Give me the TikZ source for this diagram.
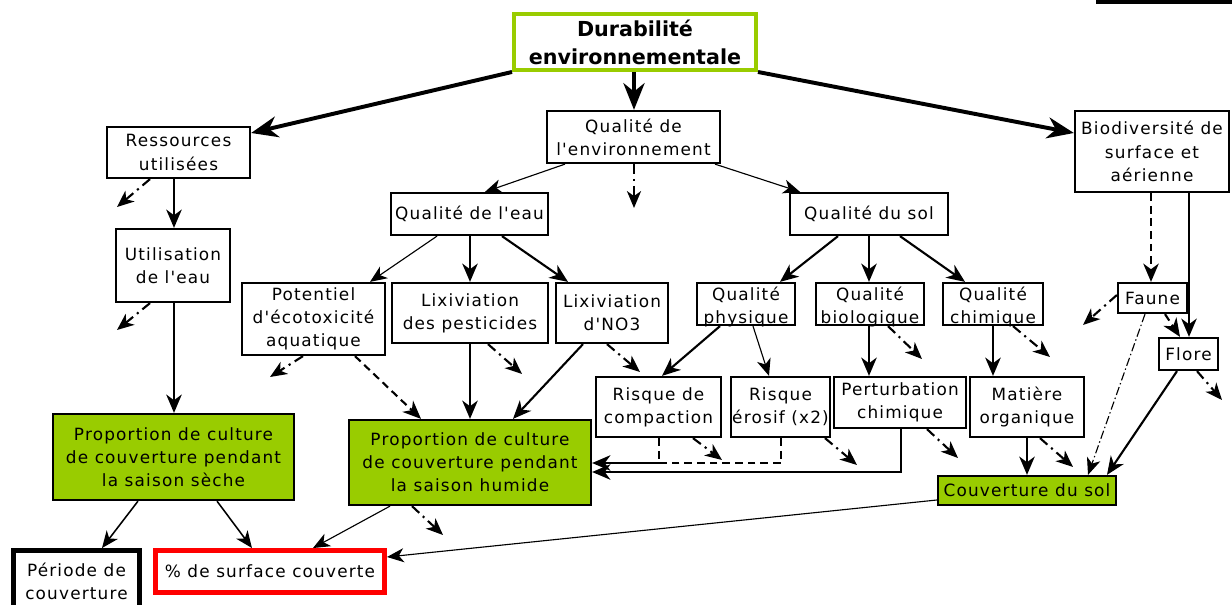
\documentclass[tikz,border=0pt]{standalone}
\usepackage{fontspec}
\newfontfamily\bodyf[LetterSpace=7]{DejaVu Sans}
\newfontfamily\titlef{DejaVu Sans}
\usetikzlibrary{arrows.meta}
\definecolor{leaf}{HTML}{99CC00}
\definecolor{redb}{HTML}{FF0000}
\newcommand{\bx}[7]{\node[#2, minimum width={(#5-#3)*0.025cm}, minimum height={(#6-#4)*0.025cm}] (#1) at ({(#3+#5)/2},{(#4+#6)/2}) {#7};}
\begin{document}
\begin{tikzpicture}[x=0.025cm,y=-0.025cm,
  base/.style={draw, line width=1.6pt, fill=white, inner sep=0pt, align=center, font=\bodyf\fontsize{12}{16.5}\selectfont},
  leafbox/.style={base, fill=leaf},
  titlebox/.style={base, draw=leaf, line width=2.8pt, font=\titlef\bfseries\fontsize{14.7}{20}\selectfont},
  redbox/.style={base, draw=redb, line width=3.5pt},
  blackbox/.style={base, line width=3.5pt},
  txt/.style={inner sep=0pt, align=center, font=\bodyf\fontsize{12}{16}\selectfont},
  thickarr/.style={line width=2.8pt, -{Stealth[length=19pt,width=15pt,inset=6pt]}},
  medarr/.style={line width=1.5pt, -{Stealth[length=13pt,width=11pt,inset=4pt]}},
  thinarr/.style={line width=0.8pt, -{Stealth[length=12pt,width=10pt,inset=3.5pt]}},
  dd/.style={line width=1.5pt, dash pattern=on 7pt off 3.5pt on 1.5pt off 3.5pt, -{Stealth[length=12pt,width=10pt,inset=3.5pt]}},
  dsh/.style={line width=1.5pt, dash pattern=on 5.5pt off 3.5pt},
  thindd/.style={line width=0.8pt, dash pattern=on 6pt off 2pt on 1pt off 2pt, -{Stealth[length=12pt,width=10pt,inset=3.5pt]}}
]
\useasboundingbox (0,0) rectangle (1232,605);
\clip (0,0) rectangle (1232,605);
\fill (1096,0) rectangle (1232,4);

% boxes
\bx{title}{titlebox}{514}{14}{756}{70}{Durabilité\\environnementale}
\bx{res}{base}{107}{127}{250}{178}{Ressources\\utilisées}
\bx{qenv}{base}{547}{111}{720}{163}{Qualité de\\l'environnement}
\bx{bio}{base}{1075}{111}{1229}{192}{Biodiversité de\\surface et\\aérienne}
\bx{qeau}{base}{391}{193}{548}{235}{Qualité de l'eau}
\bx{qsol}{base}{790}{193}{948}{235}{Qualité du sol}
\bx{util}{base}{116}{229}{230}{302}{Utilisation\\de l'eau}
\bx{pot}{base}{242}{283}{385}{355}{Potentiel\\d'écotoxicité\\aquatique}
\bx{lixp}{base}{392}{283}{548}{343}{Lixiviation\\des pesticides}
\bx{lixn}{base}{556}{283}{668}{343}{Lixiviation\\d'NO3}
\bx{qphys}{base}{697}{283}{795}{325}{}
\bx{qbio}{base}{816}{283}{924}{325}{}
\bx{qchim}{base}{943}{283}{1043}{325}{}
\node[txt] (qphysT) at (746,307) {Qualité\\physique};
\node[txt] (qbioT) at (870,307) {Qualité\\biologique};
\node[txt] (qchimT) at (993,307) {Qualité\\chimique};
\bx{faune}{base}{1118}{283}{1187}{313}{Faune}
\bx{flore}{base}{1159}{338}{1218}{370}{Flore}
\bx{comp}{base}{596}{377}{721}{437}{Risque de\\compaction}
\bx{eros}{base}{731}{377}{830}{437}{Risque\\érosif (x2)}
\bx{pert}{base}{834}{377}{966}{428}{Perturbation\\chimique}
\bx{mat}{base}{970}{377}{1084}{437}{Matière\\organique}
\bx{seche}{leafbox}{53}{414}{294}{500}{Proportion de culture\\de couverture pendant\\la saison sèche}
\bx{humide}{leafbox}{349}{420}{591}{505}{Proportion de culture\\de couverture pendant\\la saison humide}
\bx{couv}{leafbox}{938}{476}{1116}{505}{Couverture du sol}
\bx{periode}{blackbox}{13.5}{550.5}{139.5}{612}{Période de\\couverture}
\bx{surf}{redbox}{155.5}{550.5}{384.5}{592.5}{\% de surface couverte}

% free ends
\coordinate (e1) at (117,207);
\coordinate (e2) at (117,330);
\coordinate (e3) at (634,208);
\coordinate (e4) at (270,377);
\coordinate (e5) at (522,374);
\coordinate (e6) at (640,372);
\coordinate (e7) at (922,359);
\coordinate (e8) at (1050,357);
\coordinate (e9) at (1083,325);
\coordinate (e10) at (1222,400);
\coordinate (e11) at (722,460);
\coordinate (e12) at (857,465);
\coordinate (e13) at (958,458);
\coordinate (e14) at (1073,467);
\coordinate (e15) at (443,535);
\coordinate (j1) at (659,463);

% thick
\draw[thickarr] (title.south west) -- (res.east |- 0,133);
\draw[thickarr] (title.south -| 634,0) -- (qenv.north -| 634,0);
\draw[thickarr] (title.south east) -- (bio.west |- 0,133);

% medium
\draw[medarr] (res.south -| 174,0) -- (util.north -| 174,0);
\draw[medarr] (util.south -| 174,0) -- (seche.north -| 174,0);
\draw[medarr] (qeau.south -| 470,0) -- (lixp.north -| 470,0);
\draw[medarr] (qeau.south -| 502,0) -- (lixn.north -| 568,0);
\draw[medarr] (qsol.south -| 838,0) -- (qphys.north -| 780,0);
\draw[medarr] (qsol.south -| 869,0) -- (qbio.north -| 869,0);
\draw[medarr] (qsol.south -| 900,0) -- (qchim.north -| 965,0);
\draw[medarr] (bio.south -| 1189,0) -- (flore.north -| 1189,0);
\draw[medarr] (lixp.south -| 470,0) -- (humide.north -| 470,0);
\draw[medarr] (lixn.south -| 583,0) -- (humide.north -| 513,0);
\draw[medarr] (qphys.south -| 720,0) -- (comp.north -| 662,0);
\draw[medarr] (qbio.south -| 869,0) -- (pert.north -| 869,0);
\draw[medarr] (qchim.south -| 993,0) -- (mat.north -| 993,0);
\draw[medarr] (mat.south -| 1027,0) -- (couv.north -| 1027,0);
\draw[medarr] (flore.south -| 1177,0) -- (couv.north -| 1107,0);
\draw[medarr] (pert.south -| 901,0) |- (humide.east |- 0,472);
\draw[dsh] (comp.south -| 659,0) -- (j1);
\draw[dsh] (eros.south -| 781,0) |- (j1);
\draw[medarr] (j1) -- (humide.east |- j1);

% thin
\draw[thinarr] (qenv.south -| 565,0) -- (qeau.north -| 485,0);
\draw[thinarr] (qenv.south -| 715,0) -- (qsol.north -| 800,0);
\draw[thinarr] (qeau.south -| 437,0) -- (pot.north -| 370,0);
\draw[thinarr] (qphys.south -| 753,0) -- (eros.north -| 769,0);
\draw[thinarr] (couv.west |- 0,500) -- (surf.east |- 0,557);
\draw[thinarr] (humide.south -| 390,0) -- (surf.north -| 313,0);
\draw[thinarr, line width=1.1pt] (seche.south -| 138,0) -- (periode.north -| 102,0);
\draw[thinarr, line width=1.1pt] (seche.south -| 217,0) -- (surf.north -| 252,0);

% dashed
\draw[dsh, medarr] (bio.south -| 1151,0) -- (faune.north -| 1151,0);
\draw[dsh, medarr] (pot.south -| 355,0) -- (humide.north -| 421,0);
\draw[dsh, medarr] (faune.south -| 1165,0) -- (flore.north -| 1180,0);
\draw[thindd] (faune.south -| 1145,0) -- (couv.north -| 1088,0);

% dash-dot free arrows
\draw[dd] (res.south -| 150,0) -- (e1);
\draw[dd] (util.south -| 150,0) -- (e2);
\draw[dd] (qenv.south -| 634,0) -- (e3);
\draw[dd] (pot.south -| 303,0) -- (e4);
\draw[dd] (lixp.south -| 488,0) -- (e5);
\draw[dd] (lixn.south -| 607,0) -- (e6);
\draw[dd] (qbio.south -| 888,0) -- (e7);
\draw[dd] (qchim.south -| 1013,0) -- (e8);
\draw[dd] (faune.west |- 0,295) -- (e9);
\draw[dd] (flore.south -| 1197,0) -- (e10);
\draw[dd] (comp.south -| 693,0) -- (e11);
\draw[dd] (eros.south -| 825,0) -- (e12);
\draw[dd] (pert.south -| 927,0) -- (e13);
\draw[dd] (mat.south -| 1040,0) -- (e14);
\draw[dd] (humide.south -| 412,0) -- (e15);
\end{tikzpicture}
\end{document}
